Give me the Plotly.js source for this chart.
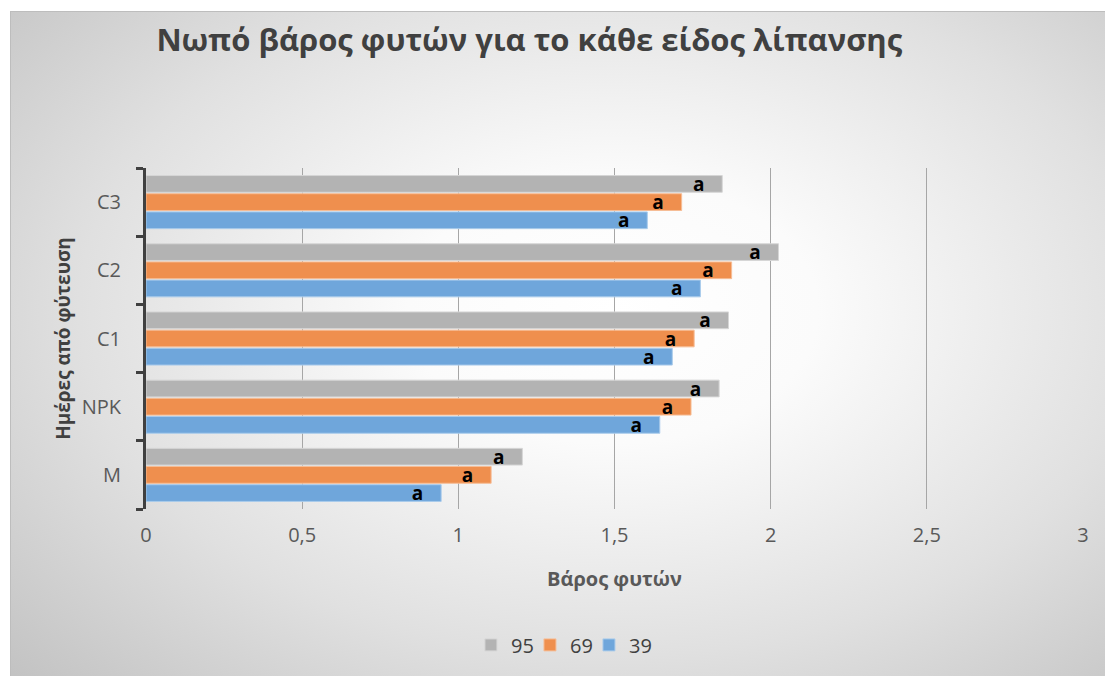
<!DOCTYPE html>
<html>
<head>
<meta charset="utf-8">
<script src="https://cdn.plot.ly/plotly-3.0.1.min.js"></script>
<style>
  html, body { margin: 0; padding: 0; background: #ffffff; }
  #frame {
    position: absolute; left: 10px; top: 11px; width: 1095px; height: 665px;
    box-sizing: border-box; border-top: 1px solid #bdbdbd; border-left: 1px solid #bdbdbd;
    background: radial-gradient(ellipse 75% 80% at 55% 45%, #ffffff 0%, #fbfbfb 25%, #e0e0e0 65%, #c3c3c3 100%);
  }
  #chart { position: absolute; left: 0; top: 0; width: 1105px; height: 676px; }
</style>
</head>
<body>
<div id="frame"></div>
<div id="chart"></div>
<script>
const categories = ["M", "NPK", "C1", "C2", "C3"];
const seriesNames = ["39", "69", "95"];
const values39 = [0.945, 1.645, 1.685, 1.775, 1.605];
const values69 = [1.105, 1.745, 1.755, 1.875, 1.715];
const values95 = [1.205, 1.835, 1.865, 2.025, 1.845];
const letters39 = ["a", "a", "a", "a", "a"];
const letters69 = ["a", "a", "a", "a", "a"];
const letters95 = ["a", "a", "a", "a", "a"];
const xTicks = [0, 0.5, 1, 1.5, 2, 2.5, 3];

const colors = ["#6fa6db", "#ef8f4e", "#b3b3b3"];
const lineColors = ["#a9cbeb", "#f6bd96", "#d6d6d6"];
const seriesValues = [values39, values69, values95];
const seriesLetters = [letters39, letters69, letters95];
const legendIds = ["legend3", "legend2", "legend"];
const legendX = [0.533, 0.4796, 0.4262];
const pad = "\u00a0\u00a0\u00a0";

const FONT = '"Open Sans", "Noto Sans", sans-serif';

const traces = seriesNames.map((name, i) => ({
  type: "bar",
  orientation: "h",
  name: name,
  legend: legendIds[i],
  y: categories,
  x: seriesValues[i],
  text: seriesLetters[i].map(t => t + pad),
  textposition: "inside",
  insidetextanchor: "end",
  constraintext: "none",
  textangle: 0,
  textfont: { family: FONT, size: 19, color: "#000000", weight: "bold" },
  marker: { color: colors[i], line: { color: lineColors[i], width: 1 } },
  hoverinfo: "skip"
}));

function legendDef(x) {
  return {
    orientation: "h",
    xref: "container", yref: "container",
    x: x, xanchor: "left",
    y: 0.046, yanchor: "middle",
    font: { family: FONT, size: 20, color: "#404040" },
    bgcolor: "rgba(0,0,0,0)"
  };
}

const layout = {
  width: 1105,
  height: 676,
  paper_bgcolor: "rgba(0,0,0,0)",
  plot_bgcolor: "rgba(0,0,0,0)",
  separators: ", ",
  margin: { l: 146, r: 22, t: 168, b: 167 },
  font: { family: FONT, color: "#595959", size: 20 },
  title: {
    text: "Νωπό βάρος φυτών για το κάθε είδος λίπανσης",
    font: { family: FONT, size: 31, color: "#404040", weight: "bold" },
    x: 0.479, xanchor: "center", xref: "container",
    y: 0.94, yanchor: "middle", yref: "container"
  },
  barmode: "group",
  bargap: 0.2,
  bargroupgap: 0.08,
  xaxis: {
    range: [0, 3],
    tickvals: xTicks,
    showgrid: true,
    gridcolor: "#a6a6a6",
    gridwidth: 1,
    zeroline: false,
    showline: false,
    ticks: "",
    tickfont: { family: FONT, size: 20, color: "#595959" },
    ticklabelstandoff: 12,
    title: {
      text: "Βάρος φυτών",
      font: { family: FONT, size: 20, color: "#595959", weight: "bold" },
      standoff: 24
    }
  },
  yaxis: {
    type: "category",
    showline: true,
    linecolor: "#404040",
    linewidth: 3,
    ticks: "outside",
    tickson: "boundaries",
    ticklen: 7,
    tickwidth: 3,
    tickcolor: "#404040",
    showgrid: false,
    tickfont: { family: FONT, size: 20, color: "#595959" },
    ticklabelstandoff: 18,
    title: {
      text: "Ημέρες από φύτευση",
      font: { family: FONT, size: 19, color: "#404040", weight: "bold" },
      standoff: 7
    }
  },
  legend: legendDef(legendX[2]),
  legend2: legendDef(legendX[1]),
  legend3: legendDef(legendX[0]),
  showlegend: true
};

Plotly.newPlot("chart", traces, layout, { displayModeBar: false, staticPlot: true });
</script>
</body>
</html>
